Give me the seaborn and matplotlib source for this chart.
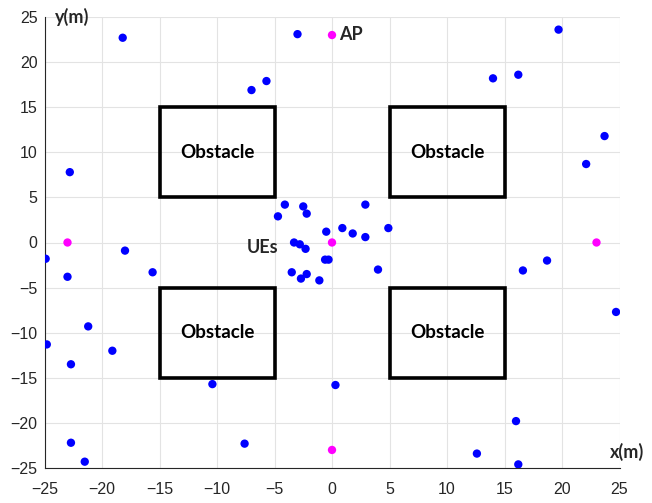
import matplotlib
matplotlib.use("Agg")
import matplotlib.pyplot as plt
import matplotlib.patches as mpatches
import seaborn as sns
import pandas as pd

# UE positions (blue)
ue_x = [-18.2, -3.0, -7.0, -5.7, -22.8, -4.1, -4.7, -2.5, -2.2, -0.5,
        0.9, 1.8, 2.9, 2.9, 4.9, -3.3, -2.8, -2.3, -0.6, -0.3,
        4.0, -3.5, -2.7, -2.2, -1.1, 19.7, 14.0, 16.2, 23.7, 22.1,
        -24.9, -23.0, -18.0, -15.6, -21.2, -24.8, -19.1, -22.7, -10.4, -22.7,
        -21.5, -7.6, 16.6, 18.7, 24.7, 0.3, 16.0, 12.6, 16.2]
ue_y = [22.7, 23.1, 16.9, 17.9, 7.8, 4.2, 2.9, 4.0, 3.2, 1.2,
        1.6, 1.0, 4.2, 0.6, 1.6, 0.0, -0.2, -0.7, -1.9, -1.9,
        -3.0, -3.3, -4.0, -3.5, -4.2, 23.6, 18.2, 18.6, 11.8, 8.7,
        -1.8, -3.8, -0.9, -3.3, -9.3, -11.3, -12.0, -13.5, -15.7, -22.2,
        -24.3, -22.3, -3.1, -2.0, -7.7, -15.8, -19.8, -23.4, -24.6]

# AP positions (magenta)
ap_x = [-23, 23, 0, 0, 0]
ap_y = [0, 0, 23, -23, 0]

# Obstacles: (x0, y0, width, height)
obst_x0 = [-15, 5, -15, 5]
obst_y0 = [5, 5, -15, -15]
obst_w = [10, 10, 10, 10]
obst_h = [10, 10, 10, 10]

x_ticks = [-25, -20, -15, -10, -5, 0, 5, 10, 15, 20, 25]
y_ticks = [-25, -20, -15, -10, -5, 0, 5, 10, 15, 20, 25]

df = pd.DataFrame({
    "x": ue_x + ap_x,
    "y": ue_y + ap_y,
    "kind": ["UE"] * len(ue_x) + ["AP"] * len(ap_x),
})

sns.set_style("whitegrid")
plt.rcParams['font.family'] = ['Liberation Sans', 'DejaVu Sans']

fig = plt.figure(figsize=(6.52, 5.03), dpi=100)
ax = fig.add_axes([44.5 / 652, 35 / 503, 575 / 652, 451 / 503])

sns.scatterplot(data=df, x="x", y="y", hue="kind",
                palette={"UE": "#0000ff", "AP": "#ff00ff"},
                s=36, linewidth=0, legend=False, ax=ax, zorder=3)

for x0, y0, w, h in zip(obst_x0, obst_y0, obst_w, obst_h):
    ax.add_patch(mpatches.Rectangle((x0, y0), w, h, fill=False,
                                    edgecolor="black", linewidth=2.6, zorder=2))
    ax.text(x0 + w / 2, y0 + h / 2, "Obstacle", ha="center", va="center",
            fontsize=13.5, fontweight="bold", family="Lato", color="black")

ax.text(0.6, 23.1, "AP", ha="left", va="center", fontsize=13,
        fontweight="bold", family="Lato")
ax.text(-7.4, -0.6, "UEs", ha="left", va="center", fontsize=13,
        fontweight="bold", family="Lato")
ax.text(24.2, -23.2, "x(m)", ha="left", va="center", fontsize=13,
        fontweight="bold", family="Lato", clip_on=False)
ax.text(-24.1, 25.0, "y(m)", ha="left", va="center", fontsize=13,
        fontweight="bold", family="Lato", clip_on=False)

ax.set_xlim(-25, 25)
ax.set_ylim(-25, 25)
ax.set_xticks(x_ticks)
ax.set_yticks(y_ticks)
ax.set_xlabel("")
ax.set_ylabel("")
ax.grid(True, color="#e3e3e3", linewidth=0.8)
ax.set_axisbelow(True)
for side in ["top", "right"]:
    ax.spines[side].set_visible(False)
for side in ["left", "bottom"]:
    ax.spines[side].set_color("#262626")
    ax.spines[side].set_linewidth(0.8)
ax.tick_params(axis="both", direction="in", length=3, width=0.8,
               color="#262626", labelcolor="#262626", labelsize=11.5)
ax.tick_params(axis="x", pad=10)
ax.tick_params(axis="y", pad=5)

fig.savefig("out.png", dpi=100)
